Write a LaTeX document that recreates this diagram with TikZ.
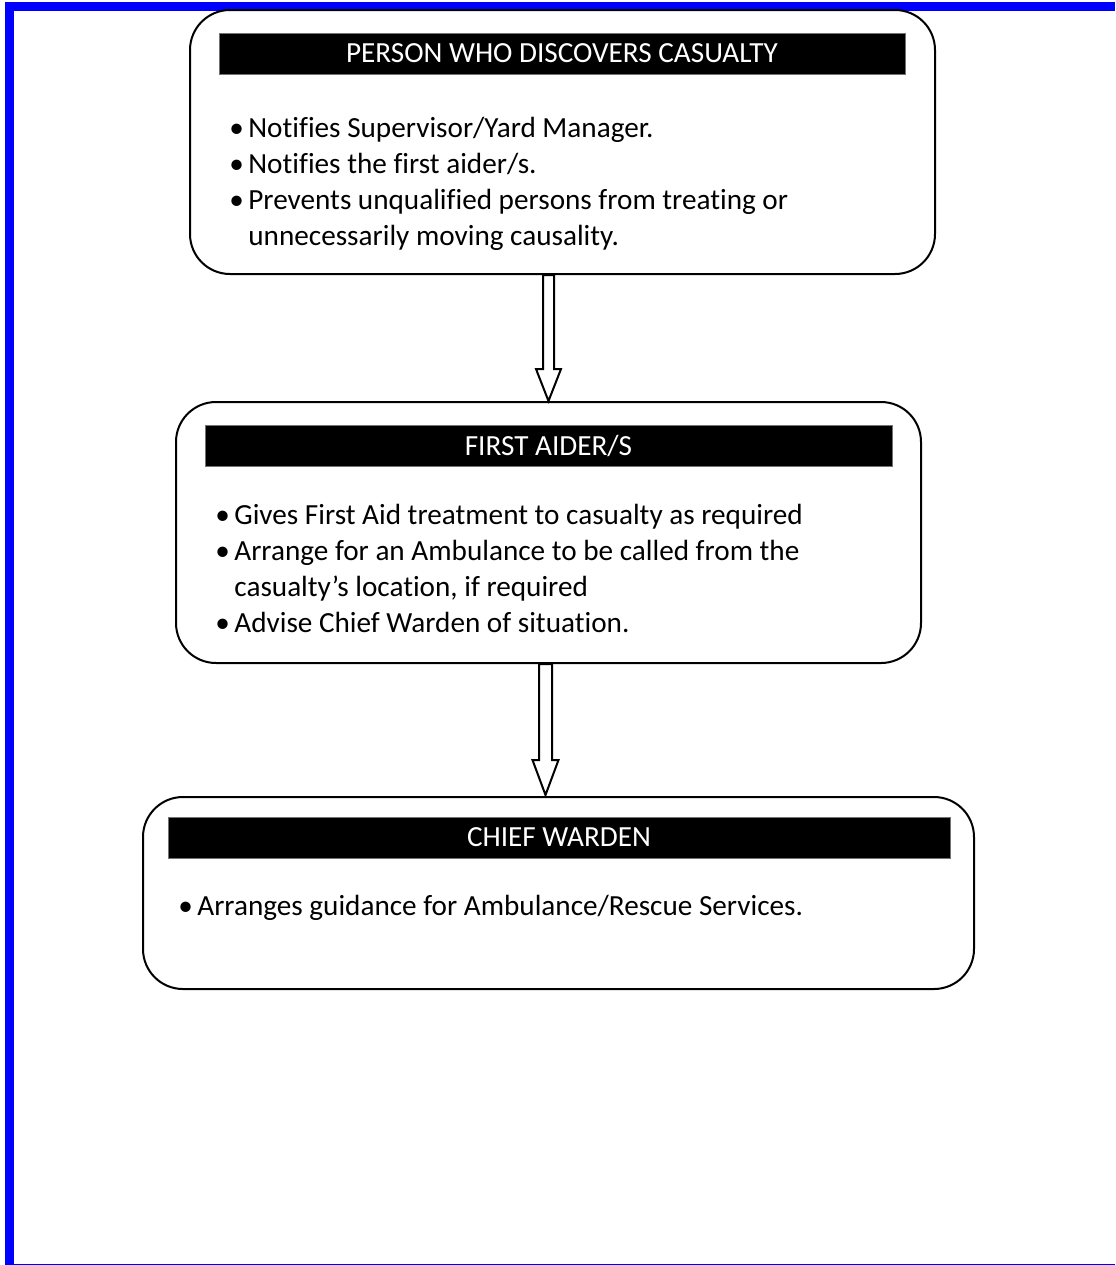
\documentclass[tikz,border=0pt]{standalone}
\usepackage{fontspec}
\setmainfont{Carlito}[Ligatures=NoCommon]
\usepackage{tikz}
\usetikzlibrary{calc}

\newcommand{\itm}{\makebox[9.5pt][l]{\textbullet}}

\begin{document}
\begin{tikzpicture}[x=0.5pt,y=-0.5pt,
    card/.style={draw,line width=1pt,rounded corners=20pt,inner sep=0},
    titlebar/.style={fill=black,draw=black!55,line width=0.5pt,text=white,inner sep=0,minimum height=20.5pt},
    itemtext/.style={anchor=base west,align=left,inner sep=0},
    blockarrow/.style={draw,fill=white,line width=1pt,line join=miter}]
  \useasboundingbox (0,0) rectangle (1115,1265);
  \tikzset{every node/.style={font=\fontsize{14.6}{18}\selectfont}}
  % page frame
  \fill[blue] (5,2) rectangle (1115,11);
  \fill[blue] (5,2) rectangle (14,1265);
  \draw[blue,line width=0.5pt] (5,1264) -- (1115,1264);
  % boxes
  \node[card,minimum width=372.5pt,minimum height=132pt] (box1) at (562.5,142) {};
  \node[card,minimum width=372.5pt,minimum height=130.5pt] (box2) at (548.5,532.5) {};
  \node[card,minimum width=415.5pt,minimum height=96pt] (box3) at (558.5,893) {};
  % title bars
  \node[titlebar,minimum width=343pt] (head1) at (562,53.5) {PERSON WHO DISCOVERS CASUALTY};
  \node[titlebar,minimum width=343.5pt] (head2) at (548.5,445.5) {FIRST AIDER/S};
  \node[titlebar,minimum width=391pt] (head3) at (559,837.5) {CHIEF WARDEN};
  % bullet text (placed by the baseline of the last line)
  \node[itemtext] (text1) at (229,245) {\itm Notifies Supervisor/Yard Manager.\\
    \itm Notifies the first aider/s.\\
    \itm Prevents unqualified persons from treating or\\
    \phantom{\itm}unnecessarily moving causality.};
  \node[itemtext] (text2) at (215,632) {\itm Gives First Aid treatment to casualty as required\\
    \itm Arrange for an Ambulance to be called from the\\
    \phantom{\itm}casualty’s location, if required\\
    \itm Advise Chief Warden of situation.};
  \node[itemtext] (text3) at (178,915) {\itm Arranges guidance for Ambulance/Rescue Services.};
  % block arrows
  \coordinate (a1top) at (box1.south -| box2.north);
  \draw[blockarrow] ($(a1top)+(-5.5,0)$) -- ($(box2.north)+(-5.5,-32)$)
    -- ($(box2.north)+(-12.5,-32)$) -- (box2.north) -- ($(box2.north)+(12.5,-32)$)
    -- ($(box2.north)+(5.5,-32)$) -- ($(a1top)+(5.5,0)$) -- cycle;
  \coordinate (a2top) at ($(box2.south)+(-3,0)$);
  \coordinate (a2tip) at ($(box3.north -| a2top)+(0,-1)$);
  \draw[blockarrow] ($(a2top)+(-6.5,0)$) -- ($(a2tip)+(-6.5,-35)$)
    -- ($(a2tip)+(-13,-35)$) -- (a2tip) -- ($(a2tip)+(13,-35)$)
    -- ($(a2tip)+(6.5,-35)$) -- ($(a2top)+(6.5,0)$) -- cycle;
\end{tikzpicture}
\end{document}
